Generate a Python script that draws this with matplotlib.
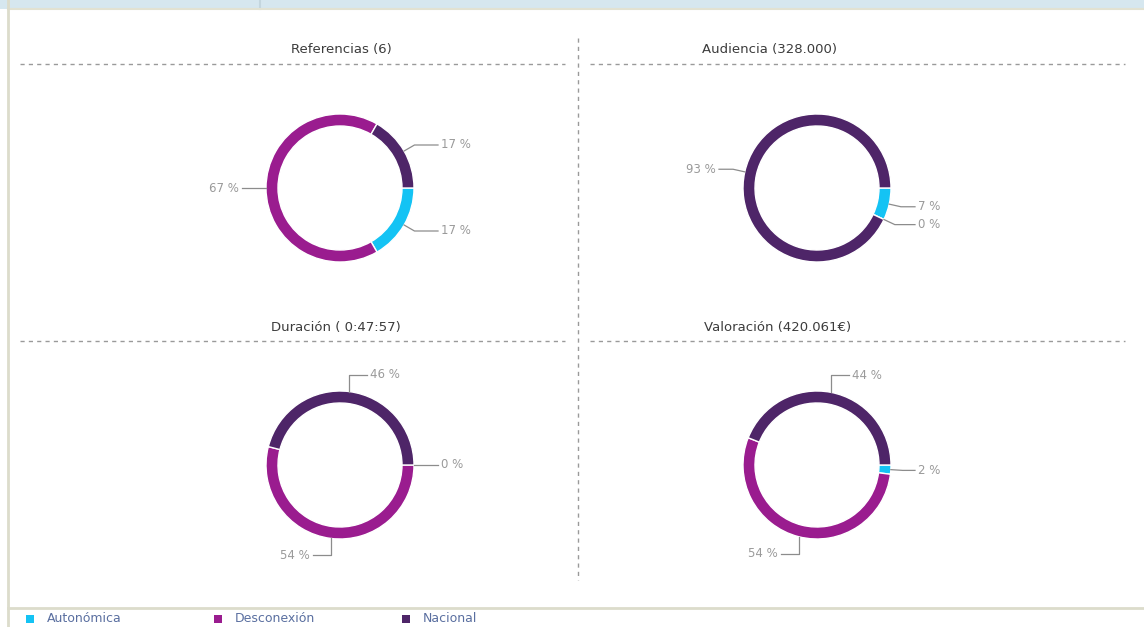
#!/usr/bin/env python3

import numpy as np
import matplotlib
matplotlib.use("Agg")
import matplotlib.pyplot as plt

W, H = 1144, 627

CATEGORIES = ["Autonómica", "Desconexión", "Nacional"]
COLORS = ["#14c3f4", "#9a1c8f", "#4e2568"]

TITLES = ["Referencias (6)", "Audiencia (328.000)",
          "Duración ( 0:47:57)", "Valoración (420.061€)"]

# shares per category (Autonómica, Desconexión, Nacional)
referencias = [1, 4, 1]
audiencia = [7, 0, 93]
duracion = [0, 54, 46]
valoracion = [2, 54, 44]
SERIES = [referencias, audiencia, duracion, valoracion]

# donut centres in pixels, title centres
CENTERS = [(340, 188), (817, 188), (340, 465), (817, 465)]
TITLE_POS = [(341, 50), (770, 50), (336, 328), (778, 328)]

R_OUT = 74
RING = 12
LABEL_COLOR = "#9a9a9a"
LINE_COLOR = "#8c8c8c"

plt.rcParams['font.family'] = ['DejaVu Sans']

fig = plt.figure(figsize=(W / 100, H / 100), dpi=100)
fig.patch.set_facecolor("white")

# background axes in pixel coordinates for frame, titles and dividers
bg = fig.add_axes([0, 0, 1, 1])
bg.set_xlim(0, W)
bg.set_ylim(H, 0)
bg.axis("off")

bg.fill_between([0, W], 0, 8.5, color="#d6e7ef", lw=0)
bg.plot([260, 260], [0, 8.5], color="#c4d6de", lw=1.5)
bg.plot([8, W], [9, 9], color="#e2e2d2", lw=1.5)
bg.plot([8, 8], [0, H], color="#dcdccb", lw=2)
bg.plot([8, W], [608, 608], color="#dcdccb", lw=2)

dash = dict(color="#9a9a9a", lw=1, linestyle=(0, (3, 3)))
bg.plot([20, 565], [64, 64], **dash)
bg.plot([590, 1125], [64, 64], **dash)
bg.plot([20, 565], [341, 341], **dash)
bg.plot([590, 1125], [341, 341], **dash)
bg.plot([578, 578], [38, 580], **dash)

for (tx, ty), title in zip(TITLE_POS, TITLES):
    bg.text(tx, ty, title, ha="center", va="center", fontsize=9.5,
            color="#3c3c3c")

# legend under the frame line
for i, (name, col) in enumerate(zip(CATEGORIES, COLORS)):
    x0 = 26 + i * 188
    bg.scatter([x0 + 4], [619], marker="s", s=30, color=col, lw=0)
    bg.text(x0 + 21, 618, name, ha="left", va="center", fontsize=9,
            color="#5a6fa0")

S = 320
for (cx, cy), values in zip(CENTERS, SERIES):
    ax = fig.add_axes([(cx - S / 2) / W, (H - cy - S / 2) / H, S / W, S / H])
    ax.pie(values, colors=COLORS, radius=R_OUT, startangle=0,
           counterclock=False,
           wedgeprops=dict(width=RING, edgecolor="white", linewidth=1))
    # pie resets the limits, so set the pixel-sized ones afterwards
    ax.set_xlim(-S / 2, S / 2)
    ax.set_ylim(-S / 2, S / 2)
    ax.set_aspect("equal")
    ax.axis("off")

    total = float(sum(values))
    start = 0.0
    for v in values:
        span = 360.0 * v / total
        mid = np.radians(start - span / 2)
        start -= span
        pct = "{} %".format(int(round(100 * v / total)))
        ax0, ay0 = R_OUT * np.cos(mid), R_OUT * np.sin(mid)
        side = 1 if np.cos(mid) >= 0 else -1
        if abs(np.sin(mid)) > 0.9:
            # near top / bottom: go vertical then sideways
            ey = ay0 + 17 * np.sign(np.sin(mid))
            xs = [ax0, ax0, ax0 + side * 18]
            ys = [ay0, ey, ey]
        else:
            ex = 86 * np.cos(mid)
            ey = 86 * np.sin(mid)
            xs = [ax0, ex, side * (R_OUT + 24)]
            ys = [ay0, ey, ey]
        ax.plot(xs, ys, color=LINE_COLOR, lw=0.9, clip_on=False)
        ax.text(xs[-1] + side * 3, ys[-1], pct,
                ha="left" if side > 0 else "right", va="center",
                fontsize=8.5, color=LABEL_COLOR)

fig.savefig("out.png", dpi=100, facecolor="white")
